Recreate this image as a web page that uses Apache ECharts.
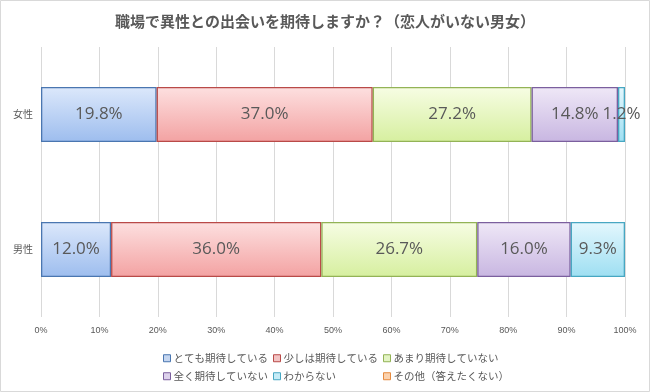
<!DOCTYPE html>
<html><head><meta charset="utf-8">
<script src="https://cdn.jsdelivr.net/npm/echarts@6/dist/echarts.min.js"></script>
<style>html,body{margin:0;padding:0;background:#fff}#c{width:650px;height:392px}</style>
</head><body><div id="c"></div>
<script>
const categories = ['女性', '男性'];
const seriesNames = ['とても期待している', '少しは期待している', 'あまり期待していない', '全く期待していない', 'わからない', 'その他（答えたくない）'];
const veryMuch = [19.8, 12.0];
const aLittle = [37.0, 36.0];
const notMuch = [27.2, 26.7];
const notAtAll = [14.8, 16.0];
const dontKnow = [1.2, 9.3];
const other = [0, 0];
const xTicks = [0, 10, 20, 30, 40, 50, 60, 70, 80, 90, 100];

const values = [veryMuch, aLittle, notMuch, notAtAll, dontKnow, other];
const styles = [
  {top:'#dce8fb', bottom:'#9dbdee', border:'#4a76b0', icon:'#c5d6f0'},
  {top:'#fde0e0', bottom:'#f3a2a2', border:'#b94a48', icon:'#f2c4c4'},
  {top:'#f7fde4', bottom:'#d6ef9f', border:'#93b356', icon:'#e3f4c4'},
  {top:'#efe8f7', bottom:'#c8b6e1', border:'#7b5f9e', icon:'#ddd2ec'},
  {top:'#e4f7fd', bottom:'#9edff2', border:'#47a7c2', icon:'#c6ecf7'},
  {top:'#fde5cf', bottom:'#f7b47c', border:'#e58a3e', icon:'#fbd2ae'}
];

const chart = echarts.init(document.getElementById('c'), null, {renderer:'canvas'});
const series = seriesNames.map((n, i) => ({
  name: n,
  type: 'bar',
  stack: 'total',
  barWidth: 55,
  data: values[i].map(v => v > 0 ? v : null),
  itemStyle: {
    color: new echarts.graphic.LinearGradient(0, 0, 0, 1, [
      {offset: 0, color: styles[i].top}, {offset: 1, color: styles[i].bottom}]),
    borderColor: styles[i].border,
    borderWidth: 1.3
  },
  label: {
    show: true,
    position: 'inside',
    formatter: p => p.value > 0 ? p.value.toFixed(1) + '%' : '',
    color: '#595959',
    fontSize: 17,
    fontFamily: 'Open Sans, Liberation Sans, sans-serif'
  },
  emphasis: {disabled: true}
}));

const legendPos = [[158, 348], [268, 348], [378, 348], [158, 366], [268, 366], [378, 366]];
const legends = seriesNames.map((n, i) => ({
  data: [{name: n, itemStyle: {color: styles[i].icon, borderColor: styles[i].border, borderWidth: 1}}],
  left: legendPos[i][0], top: legendPos[i][1],
  itemWidth: 7, itemHeight: 7, icon: 'rect', selectedMode: false,
  textStyle: {color: '#595959', fontSize: 10.5, padding: [0, 0, 0, -2], fontFamily: 'Noto Sans CJK JP, sans-serif'}
}));

chart.setOption({
  animation: false,
  backgroundColor: '#fff',
  title: {
    text: '職場で異性との出会いを期待しますか？（恋人がいない男女）',
    left: 'center', top: 9,
    textStyle: {color: '#595959', fontSize: 15, fontWeight: 'bold', fontFamily: 'Noto Sans CJK JP, sans-serif'}
  },
  graphic: [{
    type: 'rect', shape: {x: 0.5, y: 0.5, width: 649, height: 391},
    style: {fill: 'none', stroke: '#d9d9d9', lineWidth: 1}, silent: true
  }],
  grid: {left: 41, right: 25, top: 47, bottom: 75, containLabel: false},
  legend: legends,
  xAxis: {
    type: 'value', min: xTicks[0], max: xTicks[xTicks.length - 1], interval: 10,
    axisLine: {show: false}, axisTick: {show: false},
    splitLine: {lineStyle: {color: '#d9d9d9', width: 1}},
    axisLabel: {formatter: '{value}%', color: '#595959', fontSize: 9, margin: 9,
      fontFamily: 'Liberation Sans, sans-serif'}
  },
  yAxis: {
    type: 'category', data: categories, inverse: true,
    axisLine: {show: false}, axisTick: {show: false},
    axisLabel: {color: '#595959', fontSize: 10, margin: 8, fontFamily: 'Noto Sans CJK JP, sans-serif'}
  },
  series: series
});
</script></body></html>
